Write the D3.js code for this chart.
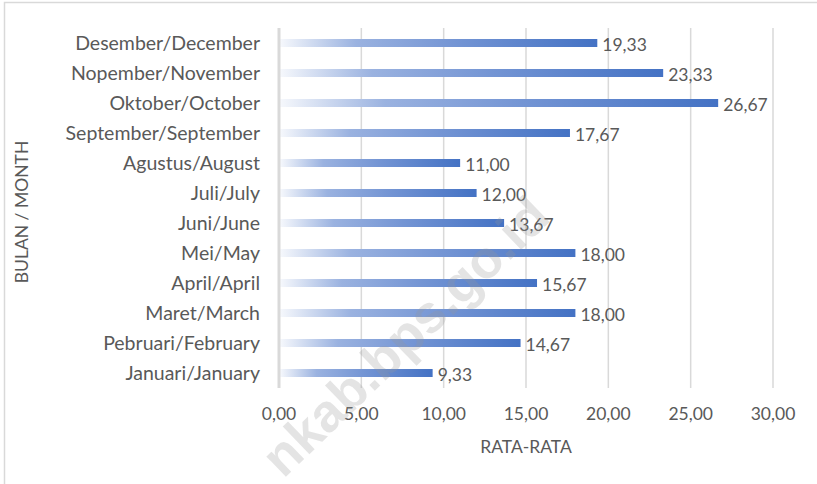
<!DOCTYPE html>
<html>
<head>
<meta charset="utf-8">
<script src="https://cdn.jsdelivr.net/npm/d3@7"></script>
<style>
  html, body { margin: 0; padding: 0; background: #fff; }
  svg { display: block; }
  text { font-family: Lato, "Open Sans", sans-serif; fill: #595959; }
</style>
</head>
<body>
<svg id="chart" width="817" height="484"></svg>
<script>
// Data (top to bottom as drawn)
const categories = [
  "Desember/December", "Nopember/November", "Oktober/October", "September/September",
  "Agustus/August", "Juli/July", "Juni/June", "Mei/May", "April/April",
  "Maret/March", "Pebruari/February", "Januari/January"
];
const values = [19.33, 23.33, 26.67, 17.67, 11.00, 12.00, 13.67, 18.00, 15.67, 18.00, 14.67, 9.33];
const xTicks = [0, 5, 10, 15, 20, 25, 30];
const xTitle = "RATA-RATA";
const yTitle = "BULAN / MONTH";
const watermark = "nkab.bps.go.id";

const fmt = v => v.toFixed(2).replace(".", ",");

const svg = d3.select("#chart");
const plotLeft = 279, plotRight = 773, plotTop = 28, plotBottom = 388;
const fsLabel = 19.5, fsNum = 17.5;

// outer frame
svg.append("rect").attr("x", 4.5).attr("y", 2.5).attr("width", 900).attr("height", 600)
  .attr("fill", "#fff").attr("stroke", "#d9d9d9").attr("stroke-width", 1.5);

const x = d3.scaleLinear().domain([0, 30]).range([plotLeft, plotRight]);
const y = d3.scaleBand().domain(categories).range([plotTop, plotBottom]).padding(0);

// gradient per bar (relative to bar box)
const defs = svg.append("defs");
const grad = defs.append("linearGradient").attr("id", "barGrad")
  .attr("x1", "0%").attr("x2", "100%").attr("y1", "0%").attr("y2", "0%");
grad.append("stop").attr("offset", "0%").attr("stop-color", "#f6f8fc");
grad.append("stop").attr("offset", "24%").attr("stop-color", "#9ab2e0");
grad.append("stop").attr("offset", "55%").attr("stop-color", "#7495d4");
grad.append("stop").attr("offset", "100%").attr("stop-color", "#4472c4");

// gridlines
svg.append("g").selectAll("line").data(xTicks.slice(1)).join("line")
  .attr("x1", d => x(d)).attr("x2", d => x(d))
  .attr("y1", plotTop).attr("y2", plotBottom)
  .attr("stroke", "#d9d9d9").attr("stroke-width", 1.5);

// bars
const barH = 8;
svg.append("g").selectAll("rect").data(values).join("rect")
  .attr("x", x(0) + 1)
  .attr("y", (d, i) => y(categories[i]) + y.bandwidth() / 2 - barH / 2)
  .attr("width", d => x(d) - x(0) - 1)
  .attr("height", barH)
  .attr("fill", "url(#barGrad)");

// y axis line
svg.append("line").attr("x1", x(0)).attr("x2", x(0)).attr("y1", plotTop).attr("y2", plotBottom)
  .attr("stroke", "#d9d9d9").attr("stroke-width", 3);

// category labels
svg.append("g").selectAll("text").data(categories).join("text")
  .attr("x", 260)
  .attr("y", d => y(d) + y.bandwidth() / 2)
  .attr("dy", "0.35em")
  .attr("text-anchor", "end")
  .attr("font-size", fsLabel)
  .text(d => d);

// data labels
svg.append("g").selectAll("text").data(values).join("text")
  .attr("x", d => x(d) + 5)
  .attr("y", (d, i) => y(categories[i]) + y.bandwidth() / 2 + 1.5)
  .attr("dy", "0.35em")
  .attr("font-size", fsNum)
  .text(d => fmt(d));

// x tick labels
svg.append("g").selectAll("text").data(xTicks).join("text")
  .attr("x", d => x(d))
  .attr("y", 420)
  .attr("text-anchor", "middle")
  .attr("font-size", fsNum)
  .text(d => fmt(d));

// axis titles
svg.append("text").attr("x", 526).attr("y", 453).attr("text-anchor", "middle")
  .attr("font-size", fsNum).text(xTitle);
svg.append("text").attr("transform", "translate(28,212) rotate(-90)")
  .attr("text-anchor", "middle").attr("font-size", fsNum).text(yTitle);

// watermark
svg.append("text")
  .attr("transform", "translate(405,336) rotate(-44)")
  .attr("text-anchor", "middle")
  .attr("dominant-baseline", "central")
  .attr("font-size", 53)
  .attr("font-weight", "bold")
  .style("font-family", "'Liberation Sans', Arial, sans-serif")
  .style("fill", "rgba(150,150,150,0.26)")
  .text(watermark);
</script>
</body>
</html>
